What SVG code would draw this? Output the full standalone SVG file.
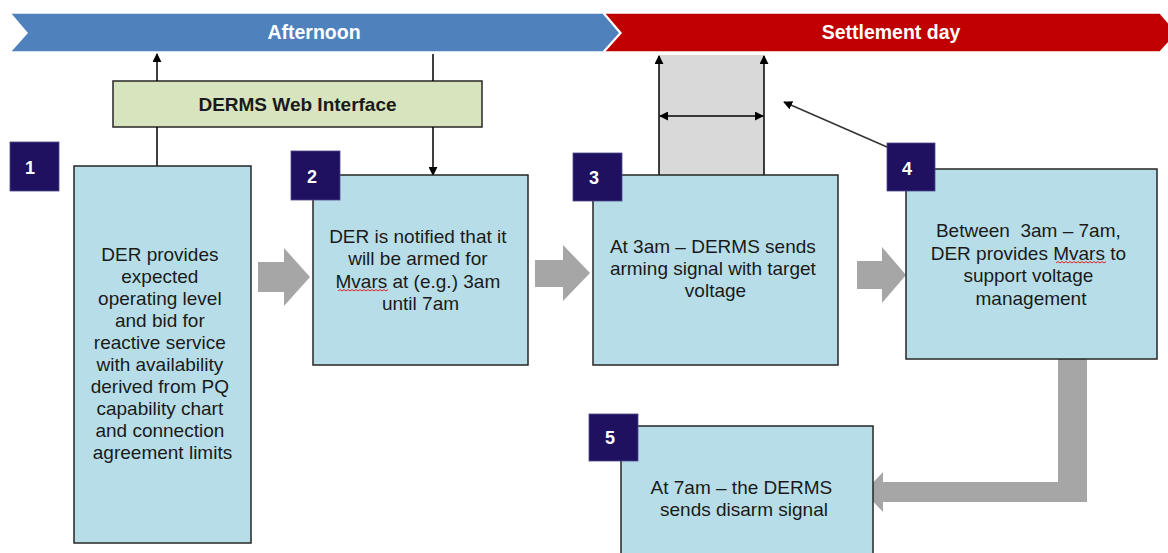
<svg xmlns="http://www.w3.org/2000/svg" width="1168" height="553" viewBox="0 0 1168 553">
<style>
  .box{fill:#B7DEE8;stroke:#262626;stroke-width:1.5}
  .badge{fill:#201160;stroke:#4a4a8a;stroke-width:0.8}
  .num{font-family:"Liberation Sans",Arial,sans-serif;font-weight:bold;font-size:18px;fill:#fff;text-anchor:middle}
  .txt{font-family:"Liberation Sans",Arial,sans-serif;font-size:19px;fill:#1a1a1a;text-anchor:middle}
  .band{font-family:"Liberation Sans",Arial,sans-serif;font-weight:bold;font-size:19.5px;fill:#fff;text-anchor:middle}
  .ln{stroke:#000;stroke-width:1.5;fill:none}
  .blk{fill:#A6A6A6}
  .sq{fill:none;stroke:#e02020;stroke-width:1}
</style>
<defs>
  <marker id="ah" viewBox="0 0 10 10" refX="9" refY="5" markerWidth="9" markerHeight="9" markerUnits="userSpaceOnUse" orient="auto-start-reverse">
    <path d="M0,0 L10,5 L0,10 z" fill="#000"/>
  </marker>
</defs>

<g id="timeline">
  <polygon points="10,13 603,13 620,33 603,52 10,52 27,33" fill="#4F81BD" stroke="#fff" stroke-width="1.5"/>
  <polygon points="604,13 1160,13 1177,33 1160,52 604,52 621,33" fill="#C00000" stroke="#fff" stroke-width="1.5"/>
  <text class="band" x="314" y="39">Afternoon</text>
  <text class="band" x="891" y="39">Settlement day</text>
</g>

<g id="window">
  <rect x="659" y="55" width="105" height="120" fill="#D9D9D9"/>
</g>

<g id="derms-web">
  <rect x="113" y="81" width="369" height="46" fill="#D7E4BD" stroke="#262626" stroke-width="1.5"/>
  <text x="297.5" y="111" font-family="Liberation Sans, Arial, sans-serif" font-weight="bold" font-size="19" fill="#1a1a1a" text-anchor="middle">DERMS Web Interface</text>
</g>

<g id="connectors">
  <line class="ln" x1="157" y1="81" x2="157" y2="54" marker-end="url(#ah)"/>
  <line class="ln" x1="157" y1="127" x2="157" y2="166"/>
  <line class="ln" x1="433" y1="54" x2="433" y2="81"/>
  <line class="ln" x1="433" y1="127" x2="433" y2="175" marker-end="url(#ah)"/>
  <line class="ln" x1="659" y1="175" x2="659" y2="56" marker-end="url(#ah)"/>
  <line class="ln" x1="764" y1="178" x2="764" y2="56" marker-end="url(#ah)"/>
  <line class="ln" x1="660" y1="116" x2="763" y2="116" marker-start="url(#ah)" marker-end="url(#ah)"/>
  <line x1="887" y1="147" x2="784" y2="102" stroke="#333" stroke-width="1.5" marker-end="url(#ah)"/>
  <polygon class="blk" points="258,262 284,262 284,248 310,277 284,306 284,292 258,292"/>
  <polygon class="blk" points="535,260 563,260 563,245 590,273 563,301 563,287 535,287"/>
  <polygon class="blk" points="857,261 882,261 882,247 906,275 882,303 882,289 857,289"/>
  <polygon class="blk" points="1058,359 1087,359 1087,502 883,502 883,512 864,492 883,472 883,482 1058,482"/>
</g>

<g id="step1">
  <rect class="box" x="74" y="166" width="177" height="377"/>
  <text class="txt">
    <tspan x="162.5" y="261">DER provides</tspan>
    <tspan x="162.5" y="283">expected</tspan>
    <tspan x="162.5" y="305">operating level</tspan>
    <tspan x="162.5" y="327">and bid for</tspan>
    <tspan x="162.5" y="349">reactive service</tspan>
    <tspan x="162.5" y="371">with availability</tspan>
    <tspan x="162.5" y="393">derived from PQ</tspan>
    <tspan x="162.5" y="415">capability chart</tspan>
    <tspan x="162.5" y="437">and connection</tspan>
    <tspan x="162.5" y="459">agreement limits</tspan>
  </text>
  <rect class="badge" x="10" y="142" width="49" height="49"/>
  <text class="num" x="30" y="174">1</text>
</g>

<g id="step2">
  <rect class="box" x="313" y="175" width="215" height="190"/>
  <text class="txt">
    <tspan x="420.5" y="243">DER is notified that it</tspan>
    <tspan x="420.5" y="265">will be armed for</tspan>
    <tspan x="420.5" y="288">Mvars at (e.g.) 3am</tspan>
    <tspan x="420.5" y="310">until 7am</tspan>
  </text>
  <path class="sq" d="M338,291 l2,-1.5 l2,1.5 l2,-1.5 l2,1.5 l2,-1.5 l2,1.5 l2,-1.5 l2,1.5 l2,-1.5 l2,1.5 l2,-1.5 l2,1.5 l2,-1.5 l2,1.5 l2,-1.5 l2,1.5 l2,-1.5 l2,1.5 l2,-1.5 l2,1.5 l2,-1.5 l2,1.5 l2,-1.5 l2,1.5 l2,-1.5"/>
  <rect class="badge" x="291" y="151" width="49" height="49"/>
  <text class="num" x="312" y="183">2</text>
</g>

<g id="step3">
  <rect class="box" x="593" y="175" width="245" height="190"/>
  <text class="txt">
    <tspan x="715.5" y="253">At 3am – DERMS sends</tspan>
    <tspan x="715.5" y="275">arming signal with target</tspan>
    <tspan x="715.5" y="297">voltage</tspan>
  </text>
  <rect class="badge" x="573" y="153" width="49" height="48"/>
  <text class="num" x="594" y="184">3</text>
</g>

<g id="step4">
  <rect class="box" x="906" y="169" width="251" height="190"/>
  <text class="txt">
    <tspan x="1031" y="237" xml:space="preserve">Between  3am – 7am,</tspan>
    <tspan x="1031" y="260">DER provides Mvars to</tspan>
    <tspan x="1031" y="282">support voltage</tspan>
    <tspan x="1031" y="305">management</tspan>
  </text>
  <path class="sq" d="M1056,263 l2,-1.5 l2,1.5 l2,-1.5 l2,1.5 l2,-1.5 l2,1.5 l2,-1.5 l2,1.5 l2,-1.5 l2,1.5 l2,-1.5 l2,1.5 l2,-1.5 l2,1.5 l2,-1.5 l2,1.5 l2,-1.5 l2,1.5 l2,-1.5 l2,1.5 l2,-1.5 l2,1.5 l2,-1.5 l2,1.5 l2,-1.5"/>
  <rect class="badge" x="887" y="143" width="48" height="48"/>
  <text class="num" x="907" y="175">4</text>
</g>

<g id="step5">
  <rect class="box" x="621" y="426" width="252" height="140"/>
  <text class="txt">
    <tspan x="744" y="494">At 7am – the DERMS</tspan>
    <tspan x="744" y="516">sends disarm signal</tspan>
  </text>
  <rect class="badge" x="589" y="414" width="49" height="47"/>
  <text class="num" x="610" y="444">5</text>
</g>
</svg>
